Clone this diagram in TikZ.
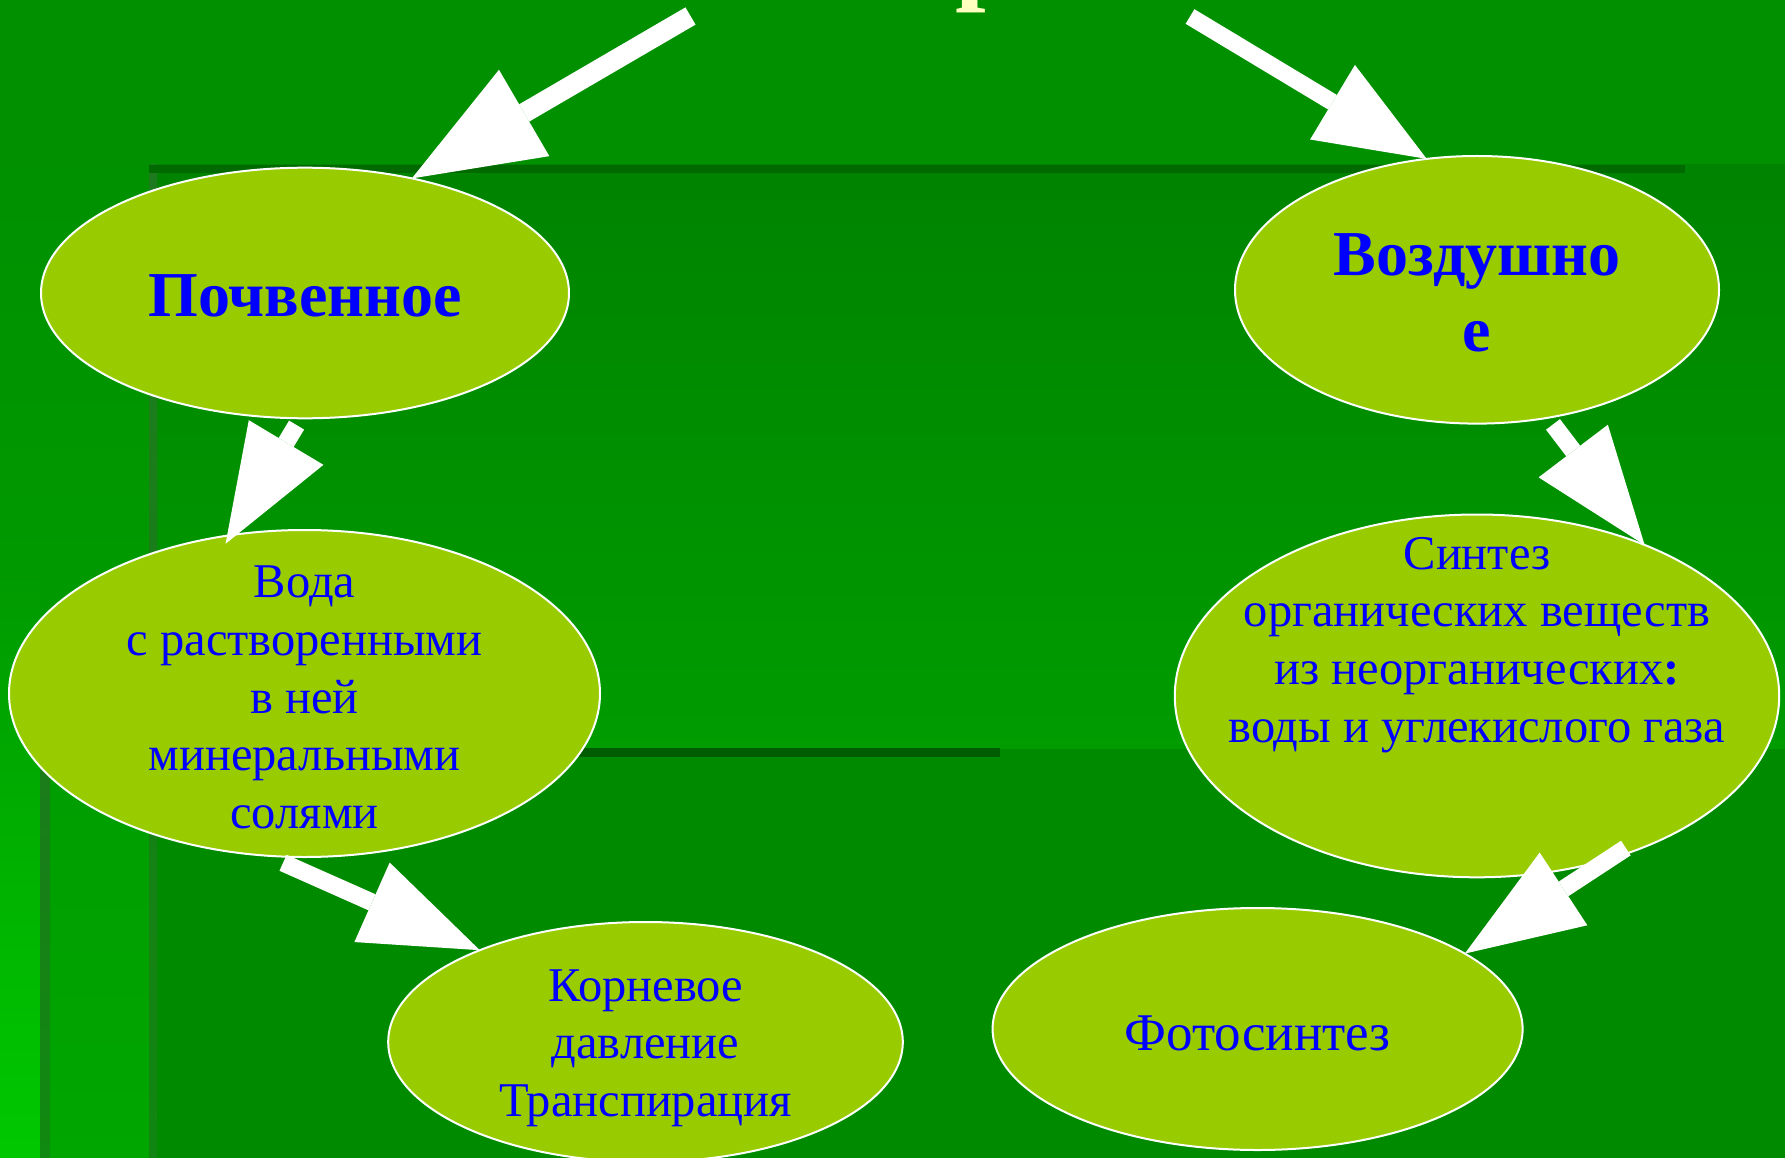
\documentclass[tikz,border=0pt]{standalone}
\usepackage{fontspec}
\setmainfont{Liberation Serif}
\usepackage{xcolor}
\usetikzlibrary{shapes,arrows,positioning,calc,arrows.meta}

\definecolor{bgtop}{HTML}{009000}
\definecolor{leaf}{HTML}{99CC00}
\definecolor{inkblue}{HTML}{0000FF}
\definecolor{paleyellow}{HTML}{FFFFC0}
\definecolor{darkline}{HTML}{006A00}
\definecolor{midline}{HTML}{005C00}
\definecolor{panellow}{HTML}{008A00}

\begin{document}
\begin{tikzpicture}[
    x=1pt, y=-1pt,
    blob/.style={ellipse, draw=white, line width=2pt, fill=leaf, outer sep=0pt, inner sep=0pt},
    bigtxt/.style={text=inkblue, font=\fontsize{64}{76}\selectfont\bfseries, align=center, yshift=-3pt},
    smalltxt/.style={text=inkblue, font=\fontsize{48.5}{57.7}\selectfont, align=center, yshift=-4pt},
    titletxt/.style={text=paleyellow, font=\fontsize{110}{130}\selectfont\bfseries, inner sep=0pt},
    fat/.style={draw=white, line width=17.5pt, -{Triangle[length=118pt,width=87pt,line width=0pt]}}
]
    \useasboundingbox (0,0) rectangle (1785,1158);

    % background panels
    \fill[bgtop] (0,0) rectangle (1785,1158);
    \shade[top color=bgtop, bottom color={rgb,255:red,0;green,166;blue,0}] (0,150) rectangle (149,1158);
    \shade[top color={rgb,255:red,0;green,153;blue,0}, bottom color={rgb,255:red,0;green,200;blue,0}] (0,560) rectangle (40,1158);
    \shade[top color={rgb,255:red,28;green,122;blue,28}, bottom color={rgb,255:red,16;green,138;blue,16}] (40,700) rectangle (50,1158);
    \shade[top color={rgb,255:red,0;green,131;blue,0}, bottom color={rgb,255:red,0;green,156;blue,0}] (157,165) rectangle (1785,749);
    \fill[panellow] (157,749) rectangle (1785,1158);
    \shade[top color={rgb,255:red,30;green,122;blue,30}, bottom color={rgb,255:red,17;green,133;blue,17}] (149,165) rectangle (157,1158);
    \fill[darkline] (149,165) rectangle (1685,173);
    \fill[midline] (157,748) rectangle (1000,757);

    % title, mostly above the frame
    \node[titletxt, anchor=base west] (title) at (955,-10.7) {р};

    % ellipses
    \node[blob, minimum width=528pt, minimum height=250.6pt] (pochva) at (305,293) {};
    \node[blob, minimum width=484pt, minimum height=267.6pt] (vozd) at (1477,289.8) {};
    \node[blob, minimum width=591pt, minimum height=327pt] (voda) at (304.5,693.5) {};
    \node[blob, minimum width=604.4pt, minimum height=362.8pt] (sintez) at (1477,695.9) {};
    \node[blob, minimum width=514.6pt, minimum height=240pt] (koren) at (645.5,1042) {};
    \node[blob, minimum width=530pt, minimum height=242pt] (foto) at (1257.6,1029) {};

    \node[bigtxt] (pochvaT) at (pochva) {Почвенное};
    \node[bigtxt] (vozdT) at (vozd) {Воздушно\\е};
    \node[smalltxt] (vodaT) at (voda) {Вода\\с растворенными\\в ней\\минеральными\\солями};
    \node[smalltxt, yshift=55pt] (sintezT) at (sintez) {Синтез\\органических веществ\\из неорганических\textbf{:}\\воды и углекислого газа};
    \node[smalltxt, yshift=-2pt] (korenT) at (koren) {Корневое\\давление\\Транспирация};
    \node[smalltxt, font=\fontsize{53}{62}\selectfont] (fotoT) at (foto) {Фотосинтез};

    % arrows
    \coordinate (fromL) at (690.5,16);
    \coordinate (fromR) at (1190,16.5);
    \draw[fat, line width=20pt, -{Triangle[length=130pt,width=100pt,line width=0pt]}] (fromL) -- (pochva.47.8);
    \draw[fat, line width=17pt, -{Triangle[length=110pt,width=87pt,line width=0pt]}] (fromR) -- (vozd.111.5);
    \draw[fat, shorten <=7.9pt, shorten >=-10pt] (pochva.268.6) -- (voda.115.8);
    \draw[fat, shorten <=8.4pt] (vozd.299.2) -- (sintez.42.6);
    \draw[fat, shorten <=17.5pt] (voda.257) -- (koren.151.9);
    \draw[fat, shorten <=-20pt] (sintez.309.5) -- (foto.20.4);
\end{tikzpicture}
\end{document}
